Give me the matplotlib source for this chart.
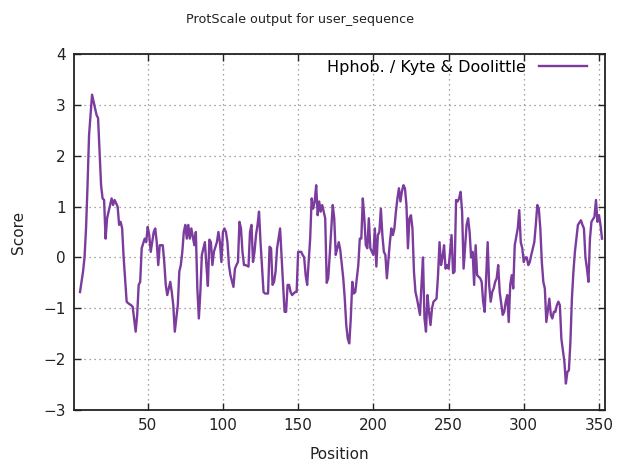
import matplotlib
matplotlib.use("Agg")
import matplotlib.pyplot as plt

positions = [5, 7, 8, 9, 10, 11, 12, 13, 15, 16, 17, 18, 19, 20, 21, 22, 23, 24, 26, 27, 28, 30, 31, 32, 33, 34,
             36, 37, 39, 40, 42, 43, 44, 45, 46, 48, 49, 50, 51, 52, 54, 55, 56, 57, 58, 60, 61, 62, 63, 65, 66, 67,
             68, 70, 71, 72, 73, 74, 75, 76, 77, 78, 79, 81, 82, 83, 84, 85, 86, 88, 89, 90, 91, 92, 93, 94, 96, 97,
             98, 99, 100, 101, 102, 103, 104, 105, 107, 108, 109, 110, 111, 112, 113, 114, 115, 117, 118, 119, 120,
             121, 122, 123, 124, 125, 127, 128, 130, 131, 132, 133, 134, 135, 136, 138, 139, 140, 141, 142, 143, 144,
             145, 146, 148, 149, 150, 152, 153, 154, 155, 156, 158, 159, 160, 161, 162, 163, 164, 165, 166, 168, 169,
             170, 171, 173, 174, 175, 176, 177, 178, 180, 181, 182, 183, 184, 185, 186, 187, 188, 190, 191, 192, 193,
             194, 195, 196, 197, 198, 200, 201, 202, 203, 204, 205, 206, 207, 208, 209, 211, 212, 213, 214, 215, 216,
             217, 218, 219, 220, 221, 222, 223, 224, 225, 226, 227, 228, 229, 231, 232, 233, 234, 235, 236, 237, 238,
             239, 240, 242, 243, 244, 245, 246, 247, 248, 249, 250, 252, 253, 254, 255, 256, 257, 258, 259, 260, 262,
             263, 264, 265, 266, 267, 268, 269, 270, 271, 272, 273, 274, 276, 277, 278, 279, 280, 281, 282, 283, 284,
             286, 287, 288, 289, 290, 291, 292, 293, 294, 296, 297, 298, 299, 300, 301, 302, 303, 304, 305, 307, 308,
             309, 310, 311, 312, 313, 314, 315, 317, 318, 319, 320, 321, 322, 323, 324, 325, 327, 328, 329, 330, 331,
             332, 333, 334, 335, 336, 338, 339, 340, 341, 342, 343, 344, 345, 346, 347, 348, 349, 350, 351, 352]

scores = [-0.68, -0.28, 0.0, 0.57, 1.42, 2.4, 2.8, 3.2, 2.93, 2.8, 2.74, 2.08, 1.42, 1.16, 1.13, 0.37, 0.77, 0.9,
          1.16, 1.03, 1.13, 1.0, 0.64, 0.7, 0.57, 0.0,
          -0.87, -0.9, -0.94, -0.97, -1.46, -1.13, -0.54, -0.48, 0.18, 0.37, 0.3, 0.6, 0.44, 0.11, 0.5, 0.57, 0.3,
          -0.15, 0.24, 0.24, -0.09, -0.54, -0.74, -0.48, -0.68, -0.94,
          -1.46, -0.94, -0.28, -0.15, 0.11, 0.5, 0.64, 0.37, 0.64, 0.37, 0.57, 0.24, 0.5, -0.61, -1.2, -0.68, 0.05,
          0.3, -0.15, -0.56, 0.35, 0.3, -0.15, 0.11, 0.3, 0.5,
          0.3, -0.09, 0.5, 0.57, 0.5, 0.3, -0.15, -0.35, -0.58, -0.22, -0.15, -0.09, 0.7, 0.57, 0.11, -0.15, -0.15,
          -0.18, 0.5, 0.64, -0.09,
          0.11, 0.44, 0.64, 0.9, 0.3, -0.68, -0.71, -0.71, 0.21, 0.18, -0.54, -0.48, -0.28, 0.18, 0.57, 0.0, -0.54,
          -1.07, -1.07, -0.54, -0.54,
          -0.68, -0.74, -0.68, -0.68, 0.11, 0.11, 0.05, 0.0, -0.35, -0.54, 0.37, 1.16, 0.96, 1.1, 1.42, 0.83, 1.1,
          0.9, 1.03, 0.77, -0.5,
          -0.41, 0.05, 1.03, 0.77, 0.05, 0.18, 0.3, 0.15, -0.41, -0.81, -1.33, -1.6, -1.69, -1.2, -0.48, -0.71, -0.68,
          -0.15, 0.37, 0.37, 1.16,
          0.77, 0.24, 0.18, 0.77, 0.18, 0.05, 0.57, -0.18, 0.44, 0.5, 0.96, 0.44, 0.11, 0.05, -0.41, 0.3, 0.57, 0.44,
          0.57, 0.9, 1.16,
          1.36, 1.1, 1.3, 1.42, 1.36, 1.03, 0.18, 0.77, 0.83, 0.57, -0.28, -0.68, -0.81, -1.13, -0.54, 0.0, -1.2,
          -1.46, -0.74, -1.07, -1.33,
          -1.0, -0.87, -0.81, -0.35, 0.3, -0.15, 0.0, 0.24, -0.22, -0.15, -0.22, 0.44, -0.31, -0.28, 1.13, 1.1, 1.16,
          1.29, 0.9, -0.22, 0.64,
          0.77, 0.5, 0.0, 0.11, -0.54, 0.24, -0.35, -0.38, -0.41, -0.48, -0.87, -1.07, 0.3, -0.54, -0.87, -0.68,
          -0.61, -0.48, -0.41, -0.15, -0.68,
          -1.13, -1.07, -0.87, -0.74, -1.27, -0.54, -0.35, -0.61, 0.24, 0.57, 0.93, 0.3, 0.18, -0.09, 0.0, 0.0, -0.15,
          -0.09, 0.05, 0.3, 0.64,
          1.03, 0.96, 0.57, -0.09, -0.48, -0.61, -1.27, -0.81, -1.13, -1.2, -1.07, -1.07, -0.94, -0.87, -0.94, -1.6,
          -2.05, -2.48, -2.25, -2.22, -1.66,
          -0.81, -0.28, 0.11, 0.37, 0.64, 0.73, 0.64, 0.57, 0.0, -0.22, -0.48, 0.37, 0.7, 0.75, 0.8, 1.13, 0.7, 0.83,
          0.64, 0.37]

x_ticks = [50, 100, 150, 200, 250, 300, 350]
y_ticks = [-3, -2, -1, 0, 1, 2, 3, 4]
series_label = "Hphob. / Kyte & Doolittle"
title_text = "ProtScale output for user_sequence"

plt.rcParams['font.family'] = ['DejaVu Sans']

fig = plt.figure(figsize=(6.17, 4.61), dpi=100)
ax = fig.add_axes([74 / 617, 1 - 410 / 461, (605 - 74) / 617, (410 - 54) / 461])

ax.plot(positions, scores, color='#7b3c9e', linewidth=1.7, label=series_label)

ax.set_xlim(1, 354)
ax.set_ylim(-3, 4)
ax.set_xticks(x_ticks)
ax.set_yticks(y_ticks)
ax.grid(True, linestyle=(0, (1, 3)), color='#8a8580', linewidth=0.9)
ax.tick_params(direction='in', top=True, right=True, length=5, width=1, labelsize=11, pad=6, colors='#222222')
for s in ax.spines.values():
    s.set_linewidth(1.3)
    s.set_color('#222222')

ax.set_xlabel("Position", fontsize=11, labelpad=10, color='#222222')
ax.set_ylabel("Score", fontsize=11, labelpad=12, color='#222222')
fig.text(300 / 617, 1 - 20 / 461, title_text, ha='center', va='center', fontsize=9.2, color='#222222')

leg = ax.legend(loc='upper right', markerfirst=False, frameon=False, fontsize=11.5,
                handlelength=3.0, borderaxespad=0.3, borderpad=0.2, handletextpad=0.8)
leg.set_bbox_to_anchor((1 - 10 / 531, 1.0 + 2 / 356), transform=ax.transAxes)

fig.savefig("out.png", dpi=100)
